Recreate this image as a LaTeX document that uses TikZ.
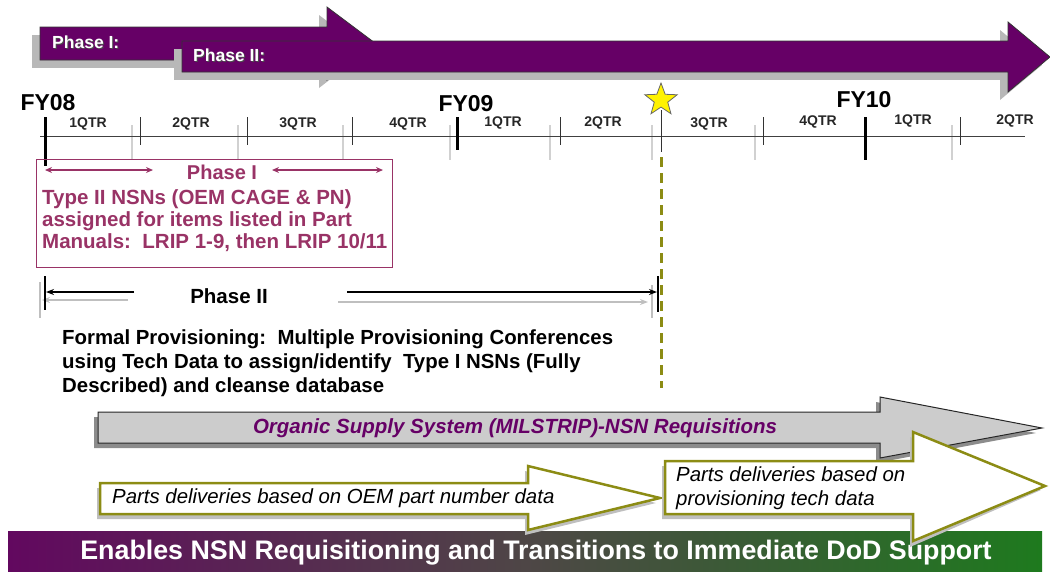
\documentclass[tikz,border=0pt]{standalone}
\usepackage{fontspec}
\setmainfont{Liberation Sans}
\usetikzlibrary{shapes.geometric,arrows.meta}
\definecolor{purp}{HTML}{660066}
\definecolor{maroon}{HTML}{993366}
\definecolor{olivel}{HTML}{8C8C14}
\definecolor{bandL}{HTML}{62085F}
\definecolor{bandM}{HTML}{4E4646}
\definecolor{bandR}{HTML}{1E7A1E}
\tikzset{
  phasetxt/.style={font=\fontsize{17.5}{17.5}\selectfont\bfseries, text=white, anchor=west, inner sep=0},
  phaseshadow/.style={font=\fontsize{17.5}{17.5}\selectfont\bfseries, text=black!70, anchor=west, inner sep=0},
  fylab/.style={font=\fontsize{23}{23}\selectfont\bfseries, inner sep=0},
  qlab/.style={font=\fontsize{14}{14}\selectfont\bfseries, text=black!85, inner sep=0},
  thintick/.style={draw=black!80, line width=1pt},
  thicktick/.style={draw=black, line width=3pt},
  ghosttick/.style={draw=black!18, line width=1.5pt},
  boxtxt/.style={font=\fontsize{20.5}{22}\selectfont\bfseries, text=maroon, inner sep=0},
  spanarrow/.style={draw=black, line width=1.5pt, -{Stealth[length=8pt,width=6pt]}},
  ghostarrow/.style={draw=black!25, line width=1.5pt, -{Stealth[length=8pt,width=6pt]}},
  bodytxt/.style={font=\fontsize{20.4}{24}\selectfont\bfseries, inner sep=0, align=left},
  parttxt/.style={font=\fontsize{20.4}{23.5}\selectfont\itshape, inner sep=0, align=left, anchor=west},
}
\begin{document}
\begin{tikzpicture}[x=1pt,y=-1pt]
\useasboundingbox (0,0) rectangle (1050,571);
% ---------- Phase arrows ----------
\fill[black!28] (32,35) rectangle (320,68);
\fill[black!28] (319,15) -- (367,51) -- (319,88) -- cycle;
\filldraw[fill=purp, draw=black!80, line width=0.8pt] (40,27) -- (327,27) -- (327,7) -- (375,43) -- (327,80) -- (327,60) -- (40,60) -- cycle;
\node[phaseshadow] (p1s) at (53,43) {Phase I:};
\node[phasetxt] (p1) at (52,42) {Phase I:};
\fill[black!28] (174,49) rectangle (1000,80);
\fill[black!28] (1000,30) -- (1042,65) -- (1000,100) -- cycle;
\filldraw[fill=purp, draw=black!80, line width=0.8pt] (182,41) -- (1008,41) -- (1008,22) -- (1050,57) -- (1008,92) -- (1008,72) -- (182,72) -- cycle;
\node[phaseshadow] (p2s) at (194,56) {Phase II:};
\node[phasetxt] (p2) at (193,55) {Phase II:};
% ---------- timeline ----------
\foreach \x in {132,238,343,450,550,652,755,952} \draw[ghosttick] (\x,125) -- (\x,160);
\draw[draw=black!75, line width=1pt] (40,136) -- (1025,136);
\foreach \x in {140,247,352,560,763,960} \draw[thintick] (\x,117) -- (\x,145);
\draw[thintick] (661,110) -- (661,152);
\draw[thicktick] (45,117) -- (45,166);
\draw[thicktick] (457,117) -- (457,150);
\draw[thicktick] (865,117) -- (865,160);
\node[fylab] (fy08) at (48,103) {FY08};
\node[fylab] (fy09) at (466,104) {FY09};
\node[fylab] (fy10) at (864,100) {FY10};
\node[qlab] (q1) at (88,124) {1QTR};
\node[qlab] (q2) at (191,124) {2QTR};
\node[qlab] (q3) at (298,124) {3QTR};
\node[qlab] (q4) at (408,124) {4QTR};
\node[qlab] (q5) at (503,123) {1QTR};
\node[qlab] (q6) at (603,123) {2QTR};
\node[qlab] (q7) at (709,124) {3QTR};
\node[qlab] (q8) at (818,122) {4QTR};
\node[qlab] (q9) at (913,121) {1QTR};
\node[qlab] (q10) at (1015,121) {2QTR};
\node[star, star points=5, star point ratio=2.4, minimum size=34pt, inner sep=0, fill=yellow, draw=black!60, line width=0.8pt] (star) at (661,100) {};
\coordinate (dashtop) at (661,157);
\coordinate (dashbot) at (661,388);
\draw[draw=olivel, line width=3pt, dash pattern=on 10pt off 6pt] (dashtop) -- (dashbot);
% ---------- Phase I box ----------
\draw[draw=maroon, line width=1pt] (36,159) rectangle (392,267);
\coordinate (a1l) at (45,170); \coordinate (a1r) at (153,170);
\coordinate (a2l) at (272,170); \coordinate (a2r) at (383,170);
\draw[draw=maroon, line width=1.5pt, {Stealth[length=7pt,width=6pt]}-{Stealth[length=7pt,width=6pt]}] (a1l) -- (a1r);
\draw[draw=maroon, line width=1.5pt, {Stealth[length=7pt,width=6pt]}-{Stealth[length=7pt,width=6pt]}] (a2l) -- (a2r);
\node[boxtxt, font=\fontsize{20}{20}\selectfont\bfseries] (ph1) at (222,172) {Phase I};
\node[boxtxt, anchor=north west, align=left] (ph1txt) at (42,189) {Type II NSNs (OEM CAGE \& PN)\\assigned for items listed in Part\\Manuals:\ \ LRIP 1-9, then LRIP 10/11};
% ---------- Phase II span ----------
\coordinate (g0t) at (40,282); \coordinate (g0b) at (40,318);
\coordinate (g1t) at (652,285); \coordinate (g1b) at (652,318);
\draw[draw=black!25, line width=1.5pt] (g0t) -- (g0b);
\draw[draw=black!25, line width=1.5pt] (g1t) -- (g1b);
\coordinate (gl1) at (128,300); \coordinate (gl2) at (42,300);
\coordinate (gr1) at (338,302); \coordinate (gr2) at (648,302);
\draw[ghostarrow] (gl1) -- (gl2);
\draw[ghostarrow] (gr1) -- (gr2);
\coordinate (b0t) at (45,276); \coordinate (b0b) at (45,310);
\coordinate (b1t) at (658,276); \coordinate (b1b) at (658,312);
\draw[draw=black, line width=1.5pt] (b0t) -- (b0b);
\draw[draw=black, line width=2pt] (b1t) -- (b1b);
\coordinate (l1) at (134,292); \coordinate (l2) at (46,292);
\coordinate (r1) at (347,292); \coordinate (r2) at (657,292);
\draw[spanarrow] (l1) -- (l2);
\draw[spanarrow] (r1) -- (r2);
\node[font=\fontsize{20.5}{20.5}\selectfont\bfseries, inner sep=0] (ph2) at (229,296) {Phase II};
\node[bodytxt, anchor=north west] (formal) at (62,330) {Formal Provisioning:\ \ Multiple Provisioning Conferences\\using Tech Data to assign/identify\ \ Type I NSNs (Fully\\Described) and cleanse database};
% ---------- banner ----------
\shade[left color=bandL, right color=bandR, middle color=bandM] (8,531) rectangle (1042,571);
\node[font=\fontsize{26.8}{26.8}\selectfont\bfseries, text=white, inner sep=0] (banner) at (536,553) {Enables NSN Requisitioning and Transitions to Immediate DoD Support};
% ---------- Organic supply arrow ----------
\fill[black!45] (94,417) -- (876,417) -- (876,402) -- (1036,433) -- (876,463) -- (876,448) -- (94,448) -- cycle;
\filldraw[fill=black!20, draw=black!85, line width=1pt] (98,412) -- (880,412) -- (880,397) -- (1042,428) -- (880,458) -- (880,443) -- (98,443) -- cycle;
\node[font=\fontsize{20.5}{20.5}\selectfont\bfseries\itshape, text=purp, inner sep=0] (org) at (515,428) {Organic Supply System (MILSTRIP)-NSN Requisitions};
% ---------- Parts arrows ----------
\fill[black!25] (97,488) -- (525,488) -- (525,471) -- (656,503) -- (525,535) -- (525,519) -- (97,519) -- cycle;
\filldraw[fill=white, draw=olivel, line width=2.5pt, line join=miter] (100,483) -- (528,483) -- (528,466) -- (660,498) -- (528,530) -- (528,514) -- (100,514) -- cycle;
\node[parttxt] (pd1) at (112,498) {Parts deliveries based on OEM part number data};
\fill[black!25] (662,466) -- (910,466) -- (910,437) -- (1041,490) -- (910,547) -- (910,519) -- (662,519) -- cycle;
\filldraw[fill=white, draw=olivel, line width=2.5pt, line join=miter] (665,461) -- (913,461) -- (913,432) -- (1045,486) -- (913,541) -- (913,514) -- (665,514) -- cycle;
\node[parttxt, anchor=north west] (pd2) at (676,467) {Parts deliveries based on\\provisioning tech data};
\end{tikzpicture}
\end{document}
